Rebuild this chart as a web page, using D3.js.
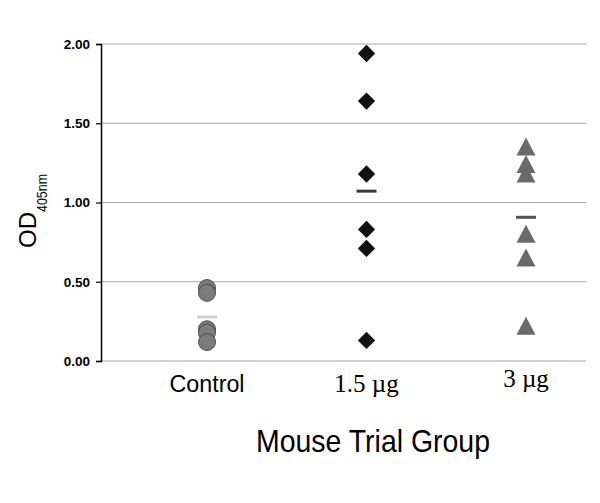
<!DOCTYPE html>
<html>
<head>
<meta charset="UTF-8">
<script src="https://d3js.org/d3.v7.min.js"></script>
<style>
	body { margin: 0; background: #fff; }
</style>
</head>
<body>
<script>
	// data
	var groups = ["Control", "1.5 µg", "3 µg"];
	var controlValues = [0.46, 0.43, 0.20, 0.18, 0.12];
	var lowDoseValues = [1.94, 1.64, 1.18, 0.83, 0.71, 0.13];
	var highDoseValues = [1.35, 1.24, 1.18, 0.80, 0.65, 0.22];
	var yTicks = [0, 0.5, 1.0, 1.5, 2.0];

	var width = 600, height = 503;
	var plotLeft = 101, plotRight = 586, plotTop = 44, plotBottom = 361;

	var svg = d3.select("body").append("svg")
		.attr("width", width)
		.attr("height", height);

	var x = d3.scalePoint().domain(groups).range([207, 526]);
	var y = d3.scaleLinear().domain([0, 2]).range([plotBottom, plotTop]);

	// gridlines
	svg.append("g")
		.selectAll("line")
		.data(yTicks)
		.enter().append("line")
			.attr("x1", plotLeft)
			.attr("x2", plotRight)
			.attr("y1", function(d) { return y(d); })
			.attr("y2", function(d) { return y(d); })
			.attr("stroke", "#a8a8a8")
			.attr("stroke-width", 1.2);

	// y axis
	var yAxis = svg.append("g")
		.attr("transform", "translate(" + plotLeft + ",0)")
		.call(d3.axisLeft(y).tickValues(yTicks).tickSize(5).tickPadding(6).tickFormat(d3.format(".2f")));
	yAxis.select(".domain").attr("stroke", "#000").attr("stroke-width", 1.5);
	yAxis.selectAll(".tick line").attr("stroke", "#000").attr("stroke-width", 1.2);
	yAxis.selectAll("text")
		.attr("font-family", "Liberation Sans, Arial, sans-serif")
		.attr("font-weight", "bold")
		.attr("font-size", 13.5)
		.attr("fill", "#000");

	// y title
	var yTitle = svg.append("text")
		.attr("transform", "translate(36,211) rotate(-90)")
		.attr("text-anchor", "middle")
		.attr("font-family", "Liberation Sans, Arial, sans-serif")
		.attr("fill", "#000");
	yTitle.append("tspan").attr("font-size", 24).text("OD");
	yTitle.append("tspan").attr("font-size", 14).attr("dy", 11)
		.attr("textLength", 38).attr("lengthAdjust", "spacingAndGlyphs").text("405nm");

	// x category labels
	svg.append("g")
		.selectAll("text")
		.data(groups)
		.enter().append("text")
			.attr("x", function(d) { return x(d); })
			.attr("y", function(d, i) { return i == 2 ? 387 : 392; })
			.attr("text-anchor", "middle")
			.attr("font-family", function(d, i) { return i == 0 ? "Liberation Sans, Arial, sans-serif" : "Liberation Serif, Times New Roman, serif"; })
			.attr("font-size", function(d, i) { return i == 0 ? 23 : 25; })
			.attr("textLength", function(d, i) { return i == 0 ? 75 : null; })
			.attr("lengthAdjust", "spacingAndGlyphs")
			.attr("fill", "#000")
			.text(function(d) { return d; });

	// x title
	svg.append("text")
		.attr("x", 373)
		.attr("y", 452)
		.attr("text-anchor", "middle")
		.attr("font-family", "Liberation Sans, Arial, sans-serif")
		.attr("font-size", 32)
		.attr("textLength", 234)
		.attr("lengthAdjust", "spacingAndGlyphs")
		.attr("fill", "#000")
		.text("Mouse Trial Group");

	// mean bars
	var means = [d3.mean(controlValues), d3.mean(lowDoseValues), d3.mean(highDoseValues)];
	var meanColors = ["#d0d0d0", "#3a3a3a", "#555555"];
	svg.append("g")
		.selectAll("line")
		.data(means)
		.enter().append("line")
			.attr("x1", function(d, i) { return x(groups[i]) - 10; })
			.attr("x2", function(d, i) { return x(groups[i]) + 10; })
			.attr("y1", function(d) { return y(d); })
			.attr("y2", function(d) { return y(d); })
			.attr("stroke", function(d, i) { return meanColors[i]; })
			.attr("stroke-width", 3);

	// control circles
	svg.append("g")
		.selectAll("circle")
		.data(controlValues)
		.enter().append("circle")
			.attr("cx", x(groups[0]))
			.attr("cy", function(d) { return y(d); })
			.attr("r", 8.5)
			.attr("fill", "#7c7c7c")
			.attr("stroke", "#4a4a4a")
			.attr("stroke-width", 1);

	// 1.5 µg diamonds
	var diamond = d3.symbol().type(d3.symbolSquare).size(150);
	svg.append("g")
		.selectAll("path")
		.data(lowDoseValues)
		.enter().append("path")
			.attr("d", diamond)
			.attr("transform", function(d) { return "translate(" + x(groups[1]) + "," + y(d) + ") rotate(45)"; })
			.attr("fill", "#111");

	// 3 µg triangles
	svg.append("g")
		.selectAll("path")
		.data(highDoseValues)
		.enter().append("path")
			.attr("d", function(d) {
				var cx = x(groups[2]), cy = y(d);
				return "M" + cx + "," + (cy - 9.5) + "L" + (cx + 9.5) + "," + (cy + 8.5) + "L" + (cx - 9.5) + "," + (cy + 8.5) + "Z";
			})
			.attr("fill", "#6a6a6a");
</script>
</body>
</html>
